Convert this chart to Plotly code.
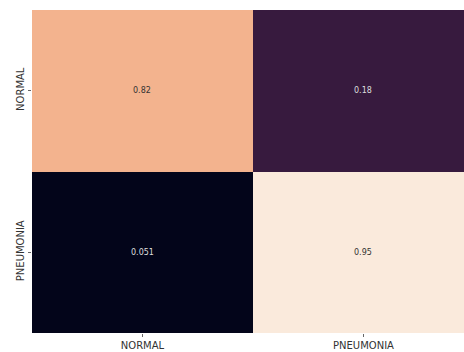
import plotly.graph_objects as go

categories = ["NORMAL", "PNEUMONIA"]
values = [[0.82, 0.18],
          [0.051, 0.95]]
labels = [["0.82", "0.18"],
          ["0.051", "0.95"]]

vmin, vmax = 0.051, 0.95
def norm(v):
    return (v - vmin) / (vmax - vmin)

colorscale = [
    [0.0, "#03051A"],
    [norm(0.18), "#371A3E"],
    [norm(0.82), "#F3B38E"],
    [1.0, "#FAEADC"],
]

fig = go.Figure(go.Heatmap(
    z=values, x=categories, y=categories,
    colorscale=colorscale, zmin=vmin, zmax=vmax,
    showscale=False, xgap=0, ygap=0,
))

annotations = []
for i, row in enumerate(values):
    for j, v in enumerate(row):
        annotations.append(dict(
            x=categories[j], y=categories[i], text=labels[i][j],
            showarrow=False,
            font=dict(family="DejaVu Sans", size=8,
                      color="#333333" if norm(v) > 0.5 else "#dddddd"),
        ))

fig.update_layout(
    width=464, height=352,
    margin=dict(l=32, r=0, t=10, b=19),
    paper_bgcolor="white", plot_bgcolor="white",
    annotations=annotations,
    font=dict(family="DejaVu Sans", size=10, color="#333333"),
    xaxis=dict(range=[-0.5, 1.455], showgrid=False, zeroline=False,
               ticks="outside", ticklen=3, tickcolor="#666666",
               tickfont=dict(size=10, color="#333333")),
    yaxis=dict(range=[1.5, -0.5], showgrid=False, zeroline=False,
               ticks="outside", ticklen=3, tickcolor="#666666",
               tickangle=-90, tickfont=dict(size=10, color="#333333")),
)

fig.write_html("out.html")
